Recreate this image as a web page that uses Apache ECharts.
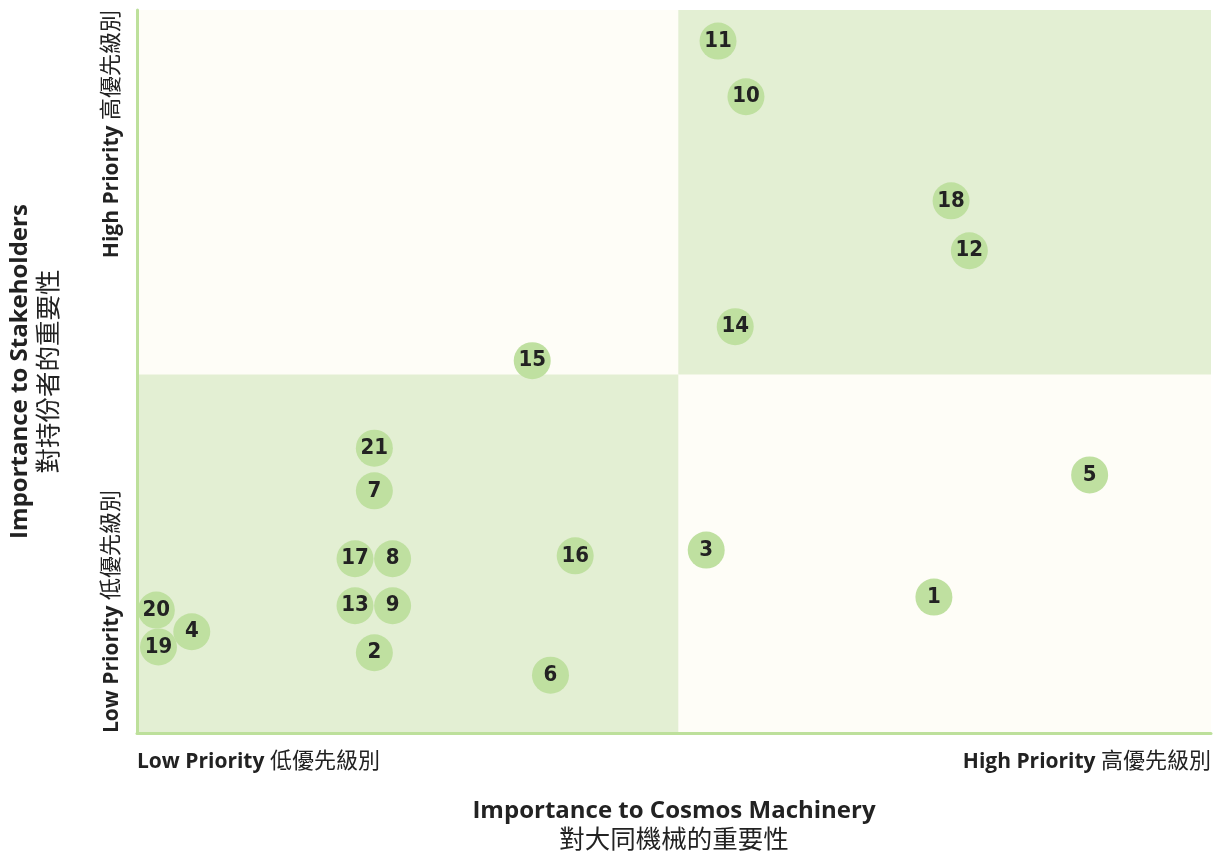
<!DOCTYPE html>
<html><head><meta charset="utf-8">
<script src="https://cdn.jsdelivr.net/npm/echarts@6/dist/echarts.min.js"></script>
<style>html,body{margin:0;padding:0;background:#fff}#c{width:1218px;height:855px}</style>
</head><body><div id="c"></div>
<script>
const ids = ['1','2','3','4','5','6','7','8','9','10','11','12','13','14','15','16','17','18','19','20','21'];
const xVals = [74.2,22.1,53.0,5.1,88.7,38.5,22.1,23.8,23.8,56.7,54.1,77.5,20.3,55.7,36.8,40.8,20.3,75.8,2.0,1.8,22.1];
const yVals = [18.8,11.1,25.3,14.0,35.7,8.0,33.5,24.1,17.6,88.0,95.7,66.7,17.6,56.2,51.5,24.5,24.1,73.6,11.9,17.0,39.4];
const xTickLabels = ['Low Priority 低優先級別','High Priority 高優先級別'];
const yTickLabels = ['Low Priority 低優先級別','High Priority 高優先級別'];
const xTitle = ['Importance to Cosmos Machinery','對大同機械的重要性'];
const yTitle = ['Importance to Stakeholders','對持份者的重要性'];
const axisMin = 0, axisMax = 100, xMid = 50.4, yMid = 49.6;

const FONT = '"Open Sans","Noto Sans","Noto Sans CJK TC",sans-serif';
const chart = echarts.init(document.getElementById('c'));
const data = ids.map((id,i)=>({value:[xVals[i],yVals[i]], name:id}));
const axisLine = {show:true, lineStyle:{color:'#bde09b', width:3}};
function tickFmt(labels){
  return v => {
    const s = v===axisMin ? labels[0] : labels[1];
    const k = s.indexOf(' ', s.indexOf('Priority'));
    return '{b|'+s.slice(0,k)+'} {n|'+s.slice(k+1)+'}';
  };
}
const tickRich = {b:{fontFamily:FONT,fontSize:21,fontWeight:'bold',color:'#222'},n:{fontFamily:FONT,fontSize:22,fontWeight:'normal',color:'#222'}};
const titleRich = {b:{fontFamily:FONT,fontSize:24,fontWeight:'bold',color:'#222',lineHeight:30},n:{fontFamily:FONT,fontSize:25.5,color:'#222',lineHeight:30}};
chart.setOption({
  animation:false,
  grid:{left:137,right:7,top:10,bottom:122,outerBoundsMode:'none',containLabel:false,show:true,backgroundColor:'#fefdf7',borderWidth:0},
  xAxis:{type:'value',min:axisMin,max:axisMax,interval:axisMax-axisMin,z:10,
    axisLine:axisLine, axisTick:{show:false}, splitLine:{show:false},
    axisLabel:{margin:18,color:'#222',fontFamily:FONT,fontSize:21,
      alignMinLabel:'left',alignMaxLabel:'right',
      formatter:tickFmt(xTickLabels), rich:tickRich},
    name:'{b|'+xTitle[0]+'}\n{n|'+xTitle[1]+'}', nameLocation:'middle', nameGap:63,
    nameTextStyle:{rich:titleRich}
  },
  yAxis:{type:'value',min:axisMin,max:axisMax,interval:axisMax-axisMin,z:10,
    axisLine:axisLine, axisTick:{show:false}, splitLine:{show:false},
    axisLabel:{margin:25,rotate:90,color:'#222',fontFamily:FONT,fontSize:21,verticalAlign:'middle',
      alignMinLabel:'left',alignMaxLabel:'right',
      formatter:tickFmt(yTickLabels), rich:tickRich},
    name:'{b|'+yTitle[0]+'}\n{n|'+yTitle[1]+'}', nameLocation:'middle', nameGap:72, nameRotate:90,
    nameTextStyle:{rich:titleRich}
  },
  series:[{
    type:'scatter', symbolSize:37, z:5,
    itemStyle:{color:'#bfe0a0',opacity:1},
    label:{show:true,position:'inside',formatter:p=>p.name,color:'#222',
      fontFamily:'"Liberation Sans Narrow","DejaVu Sans Condensed","Open Sans",sans-serif',fontWeight:'bold',fontSize:22},
    data:data,
    markArea:{silent:true,itemStyle:{color:'#e3efd3'},
      data:[[{coord:[xMid,yMid]},{coord:[axisMax,axisMax]}],[{coord:[axisMin,axisMin]},{coord:[xMid,yMid]}]]}
  }]
});
</script></body></html>
